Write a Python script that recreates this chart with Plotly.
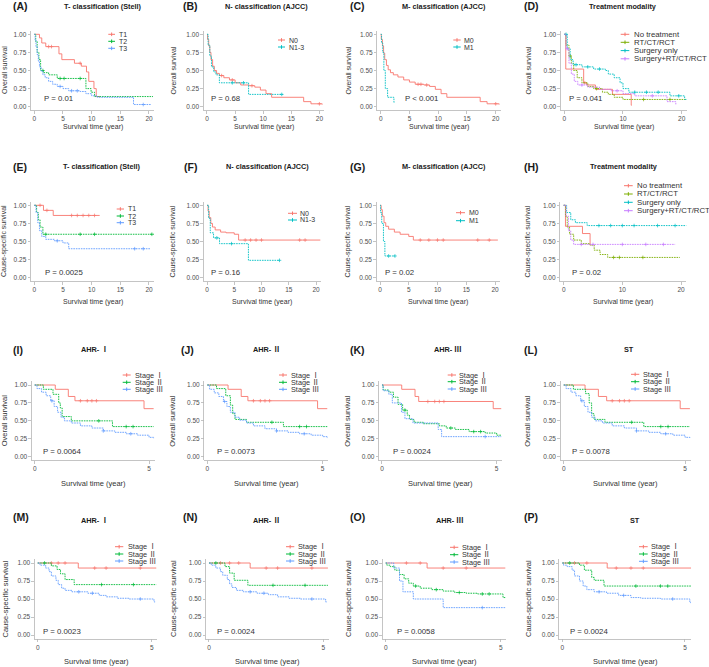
import plotly.graph_objects as go

W, H = 709, 667
RED = '#F8766D'; GRN = '#00BA38'; BLU = '#619CFF'; CYN = '#00BFC4'; OLV = '#7CAE00'; PUR = '#C77CFF'

# ---------------- data ----------------
# Panel A: overall survival by T classification
A_T1_time = [0, 0.9, 1.3, 2.0, 4.3, 4.8, 7.0, 8.2, 9.1, 9.5, 10.4, 10.8, 11.5]
A_T1_surv = [1, 0.95, 0.88, 0.83, 0.73, 0.65, 0.60, 0.56, 0.48, 0.35, 0.25, 0.14, 0.14]
A_T1_cens = [2.5, 3.0, 8.0]
A_T2_time = [0, 0.25, 0.5, 0.8, 1.1, 1.6, 2.5, 4.0, 9.0, 9.9, 10.5, 20.7]
A_T2_surv = [1, 0.9, 0.75, 0.65, 0.5, 0.47, 0.44, 0.39, 0.25, 0.20, 0.14, 0.14]
A_T2_cens = [1.5, 4.5, 5.2, 8.0]
A_T3_time = [0, 0.15, 0.3, 0.5, 0.7, 0.9, 1.2, 1.5, 1.9, 2.5, 3.2, 4.0, 5.0, 6.0, 8.0, 9.0, 10.0, 11.0, 17.3, 20.3]
A_T3_surv = [1, 0.92, 0.83, 0.72, 0.63, 0.55, 0.49, 0.44, 0.40, 0.35, 0.31, 0.28, 0.25, 0.22, 0.21, 0.18, 0.15, 0.13, 0.03, 0.03]
A_T3_cens = [4.5, 6.5, 7.5, 19.0]

# Panel B: overall survival by N classification
B_N0_time = [0, 0.1, 0.3, 0.5, 0.7, 1.0, 1.3, 1.7, 2.2, 3.0, 4.0, 5.0, 6.0, 7.5, 8.5, 9.5, 10.5, 11.5, 17.2, 18.5, 20.5]
B_N0_surv = [1, 0.93, 0.84, 0.75, 0.65, 0.56, 0.50, 0.46, 0.43, 0.40, 0.37, 0.33, 0.30, 0.29, 0.27, 0.23, 0.18, 0.13, 0.07, 0.04, 0.03]
B_N0_cens = [2.6, 4.5, 8.0, 20.0]
B_N1_time = [0, 0.2, 0.5, 0.8, 1.2, 1.6, 2.2, 7.4, 13.5]
B_N1_surv = [1, 0.85, 0.70, 0.55, 0.48, 0.44, 0.33, 0.17, 0.17]
B_N1_cens = [4.5, 6.5, 13.3]

# Panel C: overall survival by M classification
C_M0_time = [0, 0.1, 0.3, 0.5, 0.7, 1.0, 1.3, 1.7, 2.2, 3.0, 4.0, 5.0, 6.0, 7.5, 8.5, 9.5, 10.5, 11.5, 17.3, 18.5, 20.6]
C_M0_surv = [1, 0.93, 0.84, 0.74, 0.65, 0.57, 0.51, 0.47, 0.44, 0.41, 0.37, 0.34, 0.31, 0.30, 0.28, 0.24, 0.18, 0.13, 0.07, 0.04, 0.03]
C_M0_cens = [6.5, 7.0, 8.0, 20.0]
C_M1_time = [0, 0.15, 0.35, 0.55, 0.8, 1.2, 2.3, 2.4]
C_M1_surv = [1, 0.88, 0.75, 0.50, 0.25, 0.13, 0.06, 0.06]
C_M1_cens = []

# Panel D: overall survival by treatment modality
D_NT_time = [0, 0.25, 3.3, 3.8, 5.3, 8.2, 11.4, 11.5]
D_NT_surv = [1, 0.52, 0.33, 0.30, 0.24, 0.17, 0.02, 0.02]
D_NT_cens = [3.5]
D_RT_time = [0, 0.3, 0.8, 1.2, 1.6, 2.2, 3.0, 4.0, 5.0, 6.5, 7.5, 8.5, 10.0, 20.8]
D_RT_surv = [1, 0.85, 0.70, 0.60, 0.50, 0.40, 0.33, 0.28, 0.25, 0.20, 0.17, 0.13, 0.10, 0.10]
D_RT_cens = [1.0, 5.5, 13.5, 18.0]
D_SO_time = [0, 0.5, 1.0, 1.5, 3.0, 5.0, 7.0, 7.5, 8.5, 9.5, 10.0, 11.0, 18.0, 20.5, 21.0]
D_SO_surv = [1, 0.80, 0.65, 0.58, 0.55, 0.52, 0.50, 0.45, 0.40, 0.33, 0.25, 0.20, 0.15, 0.10, 0.05]
D_SO_cens = [0.3, 2.0, 4.0, 6.0, 12.0, 14.0, 16.0, 19.5]
D_SP_time = [0, 0.3, 0.8, 1.2, 1.7, 2.3, 4.0, 6.0, 8.0, 10.0, 12.0, 17.5, 19.0]
D_SP_surv = [1, 0.80, 0.60, 0.45, 0.35, 0.30, 0.27, 0.24, 0.22, 0.18, 0.15, 0.07, 0.03]
D_SP_cens = [0.5, 3.0, 9.0, 15.0]

# Panel E: cause-specific survival by T classification
E_T1_time = [0, 1.6, 3.3, 11.4]
E_T1_surv = [1, 0.93, 0.86, 0.86]
E_T1_cens = [1.0, 2.2, 6.5, 7.5, 8.5, 9.5, 10.5]
E_T2_time = [0, 0.4, 0.7, 1.0, 1.5, 20.8]
E_T2_surv = [1, 0.90, 0.80, 0.70, 0.60, 0.60]
E_T2_cens = [2.0, 8.0, 10.5, 20.5]
E_T3_time = [0, 0.3, 0.6, 0.9, 1.3, 2.0, 3.5, 5.0, 6.0, 20.3]
E_T3_surv = [1, 0.90, 0.76, 0.65, 0.57, 0.53, 0.51, 0.48, 0.40, 0.40]
E_T3_cens = [4.0, 17.5, 19.0]

# Panel F: cause-specific survival by N classification
F_N0_time = [0, 0.2, 0.4, 0.7, 1.0, 1.5, 2.5, 3.5, 5.0, 5.8, 20.8]
F_N0_surv = [1, 0.92, 0.83, 0.75, 0.70, 0.66, 0.63, 0.62, 0.60, 0.52, 0.52]
F_N0_cens = [7.0, 8.0, 9.0, 10.0, 17.0, 18.0]
F_N1_time = [0, 0.3, 0.6, 1.2, 2.3, 7.6, 13.3]
F_N1_surv = [1, 0.82, 0.62, 0.55, 0.47, 0.24, 0.24]
F_N1_cens = [1.8, 4.5, 13.3]

# Panel G: cause-specific survival by M classification
G_M0_time = [0, 0.2, 0.4, 0.7, 1.0, 1.5, 2.5, 3.5, 5.0, 5.8, 20.5]
G_M0_surv = [1, 0.94, 0.85, 0.76, 0.71, 0.67, 0.63, 0.60, 0.57, 0.52, 0.52]
G_M0_cens = [7.0, 8.5, 10.0, 11.0, 17.0, 19.0]
G_M1_time = [0, 0.1, 0.3, 0.6, 0.85, 2.6]
G_M1_surv = [1, 0.90, 0.75, 0.50, 0.30, 0.30]
G_M1_cens = [1.5, 2.6]

# Panel H: cause-specific survival by treatment modality
H_NT_time = [0, 0.3, 3.2, 4.5, 4.6]
H_NT_surv = [1, 0.71, 0.61, 0.45, 0.45]
H_NT_cens = []
H_RT_time = [0, 0.3, 0.6, 1.0, 1.7, 3.0, 4.5, 5.2, 6.2, 7.5, 19.8]
H_RT_surv = [1, 0.85, 0.70, 0.60, 0.52, 0.47, 0.45, 0.38, 0.32, 0.28, 0.28]
H_RT_cens = [8.5, 9.5, 13.5]
H_SO_time = [0, 0.5, 1.2, 2.0, 4.0, 21.0]
H_SO_surv = [1, 0.90, 0.80, 0.76, 0.72, 0.72]
H_SO_cens = [6.0, 8.0, 10.0, 12.0, 16.0, 19.0]
H_SP_time = [0, 0.4, 0.8, 1.2, 1.7, 19.0]
H_SP_surv = [1, 0.85, 0.65, 0.52, 0.46, 0.46]
H_SP_cens = [3.0, 5.0, 10.0, 14.0, 17.0]

# Panels I-L: overall survival by stage (AHR-I, AHR-II, AHR-III, ST)
I_S1_time = [0, 0.9, 1.47, 1.76, 4.78, 5.2]
I_S1_surv = [1, 0.94, 0.84, 0.78, 0.67, 0.67]
I_S1_cens = [2.0, 2.3, 2.5, 2.7]
I_S2_time = [0, 0.38, 0.8, 1.05, 1.12, 1.2, 1.6, 3.4, 5.2]
I_S2_surv = [1, 0.94, 0.87, 0.75, 0.68, 0.56, 0.50, 0.42, 0.42]
I_S2_cens = [2.8, 4.0, 4.3]
I_S3_time = [0, 0.1, 0.3, 0.5, 0.7, 0.85, 1.0, 1.15, 1.3, 1.6, 2.0, 2.5, 3.0, 3.5, 4.0, 4.5, 5.0, 5.2]
I_S3_surv = [1, 0.95, 0.90, 0.85, 0.78, 0.70, 0.62, 0.55, 0.50, 0.47, 0.43, 0.40, 0.36, 0.34, 0.32, 0.30, 0.27, 0.25]
I_S3_cens = [0.75, 3.0, 4.2]

J_S1_time = [0, 0.9, 1.47, 1.76, 4.78, 5.2]
J_S1_surv = [1, 0.94, 0.84, 0.78, 0.67, 0.67]
J_S1_cens = [2.0, 2.3, 2.5, 2.7]
J_S2_time = [0, 0.4, 0.8, 1.0, 1.1, 1.2, 1.7, 3.3, 5.2]
J_S2_surv = [1, 0.95, 0.85, 0.72, 0.60, 0.52, 0.48, 0.42, 0.42]
J_S2_cens = [2.8, 4.0, 4.3]
J_S3_time = [0, 0.1, 0.3, 0.5, 0.7, 0.85, 1.0, 1.2, 1.4, 1.7, 2.0, 2.5, 3.0, 3.5, 4.0, 4.5, 5.0, 5.2]
J_S3_surv = [1, 0.94, 0.89, 0.84, 0.77, 0.70, 0.62, 0.55, 0.51, 0.47, 0.43, 0.39, 0.36, 0.34, 0.32, 0.30, 0.28, 0.26]
J_S3_cens = [0.75, 3.0, 4.2]

K_S1_time = [0, 0.86, 1.44, 1.6, 4.85, 5.2]
K_S1_surv = [1, 0.94, 0.84, 0.77, 0.67, 0.67]
K_S1_cens = [2.0, 2.3, 2.5, 2.7]
K_S2_time = [0, 0.05, 0.3, 0.5, 0.7, 0.9, 1.1, 1.2, 1.4, 1.8, 2.5, 2.8, 3.2, 3.8, 4.5, 5.0, 5.2]
K_S2_surv = [1, 0.93, 0.90, 0.83, 0.73, 0.65, 0.58, 0.52, 0.48, 0.46, 0.43, 0.40, 0.38, 0.35, 0.33, 0.30, 0.30]
K_S2_cens = [1.0, 3.0, 4.0, 4.3]
K_S3_time = [0, 0.05, 0.3, 0.45, 0.85, 1.0, 1.35, 2.45, 2.6, 5.2]
K_S3_surv = [1, 0.92, 0.87, 0.75, 0.62, 0.53, 0.47, 0.38, 0.28, 0.28]
K_S3_cens = [4.5]

L_S1_time = [0, 0.88, 1.43, 1.77, 4.8, 5.2]
L_S1_surv = [1, 0.94, 0.84, 0.78, 0.67, 0.67]
L_S1_cens = [2.0, 2.3, 2.5, 2.7]
L_S2_time = [0, 0.4, 0.9, 1.05, 1.15, 1.25, 1.7, 3.3, 5.2]
L_S2_surv = [1, 0.94, 0.88, 0.75, 0.60, 0.52, 0.48, 0.42, 0.42]
L_S2_cens = [2.8, 4.0, 4.3]
L_S3_time = [0, 0.1, 0.3, 0.5, 0.7, 0.85, 1.0, 1.15, 1.3, 1.6, 2.0, 2.5, 3.0, 3.5, 4.0, 4.5, 5.0, 5.2]
L_S3_surv = [1, 0.95, 0.90, 0.85, 0.78, 0.70, 0.62, 0.55, 0.50, 0.47, 0.43, 0.40, 0.36, 0.34, 0.32, 0.30, 0.27, 0.25]
L_S3_cens = [0.75, 3.0, 4.2]

# Panels M-P: cause-specific survival by stage
M_S1_time = [0, 1.78, 5.2]
M_S1_surv = [1, 0.93, 0.93]
M_S1_cens = [0.6, 0.9, 1.2, 2.5, 3.0, 4.5]
M_S2_time = [0, 0.6, 0.85, 1.0, 1.2, 1.6, 5.2]
M_S2_surv = [1, 0.96, 0.91, 0.85, 0.77, 0.70, 0.70]
M_S2_cens = [0.3, 2.8, 4.2]
M_S3_time = [0, 0.1, 0.35, 0.5, 0.6, 0.8, 0.9, 1.05, 1.2, 1.5, 2.2, 2.7, 3.0, 3.5, 4.0, 5.1, 5.15]
M_S3_surv = [1, 0.97, 0.93, 0.88, 0.82, 0.76, 0.70, 0.65, 0.62, 0.60, 0.58, 0.55, 0.53, 0.51, 0.50, 0.46, 0.46]
M_S3_cens = [1.8, 2.4, 4.5]

N_S1_time = [0, 1.8, 5.2]
N_S1_surv = [1, 0.93, 0.93]
N_S1_cens = [0.5, 0.9, 1.3, 2.5, 3.0, 4.5]
N_S2_time = [0, 0.7, 0.9, 1.1, 1.7, 5.2]
N_S2_surv = [1, 0.95, 0.86, 0.76, 0.69, 0.69]
N_S2_cens = [0.3, 2.8, 4.2]
N_S3_time = [0, 0.1, 0.3, 0.5, 0.6, 0.8, 0.9, 1.0, 1.2, 1.5, 2.1, 2.6, 3.0, 3.5, 4.0, 5.1, 5.15]
N_S3_surv = [1, 0.97, 0.93, 0.88, 0.83, 0.77, 0.71, 0.66, 0.62, 0.60, 0.58, 0.56, 0.53, 0.51, 0.50, 0.46, 0.46]
N_S3_cens = [1.8, 2.4, 4.5]

O_S1_time = [0, 1.8, 5.2]
O_S1_surv = [1, 0.93, 0.93]
O_S1_cens = [0.9, 1.5, 2.5, 3.5]
O_S2_time = [0, 0.05, 0.2, 0.4, 0.6, 0.8, 1.0, 1.2, 1.5, 2.0, 2.5, 3.0, 3.5, 4.0, 5.1, 5.2]
O_S2_surv = [1, 0.97, 0.95, 0.90, 0.84, 0.78, 0.72, 0.68, 0.65, 0.63, 0.61, 0.59, 0.58, 0.57, 0.52, 0.52]
O_S2_cens = [1.3, 2.2, 3.2, 4.2, 4.5]
O_S3_time = [0, 0.35, 0.6, 0.75, 1.2, 2.5, 5.2]
O_S3_surv = [1, 0.93, 0.75, 0.60, 0.50, 0.38, 0.38]
O_S3_cens = [4.2]

P_S1_time = [0, 1.83, 5.25]
P_S1_surv = [1, 0.93, 0.93]
P_S1_cens = [0.5, 1.0, 2.2, 2.8, 3.3]
P_S2_time = [0, 0.7, 0.9, 1.2, 1.3, 1.7, 5.25]
P_S2_surv = [1, 0.97, 0.90, 0.80, 0.76, 0.68, 0.68]
P_S2_cens = [0.3, 3.0, 4.0, 4.3]
P_S3_time = [0, 0.05, 0.2, 0.4, 0.5, 0.7, 0.85, 1.0, 1.3, 1.8, 2.3, 2.8, 3.2, 4.0, 5.2, 5.25]
P_S3_surv = [1, 0.97, 0.95, 0.90, 0.82, 0.75, 0.68, 0.63, 0.60, 0.58, 0.55, 0.52, 0.51, 0.50, 0.45, 0.45]
P_S3_cens = [1.5, 2.5, 4.5]

# labels
T_NAMES = ['T1', 'T2', 'T3']
N_NAMES = ['N0', 'N1-3']
M_NAMES = ['M0', 'M1']
TX_NAMES = ['No treatment', 'RT/CT/RCT', 'Surgery only', 'Surgery+RT/CT/RCT']
STAGE_NAMES = ['Stage Ⅰ', 'Stage Ⅱ', 'Stage Ⅲ']
OS_LABEL = 'Overall survival'
CSS_LABEL = 'Cause-specific survival'
X_LABEL = 'Survival time (year)'
Y_TICKS = [0, 0.25, 0.5, 0.75, 1.0]
Y_TICKTEXT = ['0.00', '0.25', '0.50', '0.75', '1.00']
X_TICKS_LONG = [0, 5, 10, 15, 20]
X_TICKS_TX = [0, 10, 20]
X_TICKS_SHORT = [0, 5]

# ---------------- layout specs (pixel geometry) ----------------
ROWS = {
    1: dict(y1=34.3, y0=106.7, lab=6, pv=99, xt=127.3, ysz=7),
    2: dict(y1=205.3, y0=277.7, lab=167, pv=272.3, xt=301.7, ysz=7),
    3: dict(y1=385.0, y0=456.7, lab=350, pv=451.7, xt=483.3, ysz=7.5),
    4: dict(y1=563.0, y0=635.0, lab=517, pv=631.7, xt=661.7, ysz=7.5),
}
YT_X = [4.5, 173, 348, 528]
XR_LONG = [-0.6, 20.9]
XR_SHORT = [-0.13, 5.25]

panels = [
    dict(row=1, col=0, lab='(A)', labx=20, title='T- classification (Stell)', tx=103, ylab=OS_LABEL,
         p='P = 0.01', px=42, x0=34.3, ppu=5.735, xr=XR_LONG, xt=X_TICKS_LONG,
         curves=[(T_NAMES[0], A_T1_time, A_T1_surv, A_T1_cens, RED), (T_NAMES[1], A_T2_time, A_T2_surv, A_T2_cens, GRN),
                 (T_NAMES[2], A_T3_time, A_T3_surv, A_T3_cens, BLU)],
         leg=dict(k0=108.3, k1=115, tx=116.7, rows=[34.3, 41.3, 48.3], fs=7)),
    dict(row=1, col=1, lab='(B)', labx=190, title='N- classification (AJCC)', tx=266, ylab=OS_LABEL,
         p='P = 0.68', px=209.3, x0=207, ppu=5.62, xr=XR_LONG, xt=X_TICKS_LONG,
         curves=[(N_NAMES[0], B_N0_time, B_N0_surv, B_N0_cens, RED), (N_NAMES[1], B_N1_time, B_N1_surv, B_N1_cens, CYN)],
         leg=dict(k0=278, k1=285, tx=286.7, rows=[40, 47], fs=7)),
    dict(row=1, col=2, lab='(C)', labx=357, title='M- classification (AJCC)', tx=444, ylab=OS_LABEL,
         p='P < 0.001', px=403.3, x0=380.7, ppu=5.75, xr=XR_LONG, xt=X_TICKS_LONG,
         curves=[(M_NAMES[0], C_M0_time, C_M0_surv, C_M0_cens, RED), (M_NAMES[1], C_M1_time, C_M1_surv, C_M1_cens, CYN)],
         leg=dict(k0=453.3, k1=460.7, tx=462, rows=[40, 47], fs=7)),
    dict(row=1, col=3, lab='(D)', labx=531, title='Treatment modality', tx=623, ylab=OS_LABEL,
         p='P = 0.041', px=567.3, x0=564.3, ppu=5.87, xr=XR_LONG, xt=X_TICKS_TX,
         curves=[(TX_NAMES[0], D_NT_time, D_NT_surv, D_NT_cens, RED), (TX_NAMES[1], D_RT_time, D_RT_surv, D_RT_cens, OLV),
                 (TX_NAMES[2], D_SO_time, D_SO_surv, D_SO_cens, CYN), (TX_NAMES[3], D_SP_time, D_SP_surv, D_SP_cens, PUR)],
         leg=dict(k0=620.7, k1=629.3, tx=631.7, rows=[34.3, 42.3, 50.6, 58.8], fs=7.8)),
    dict(row=2, col=0, lab='(E)', labx=20, title='T- classification (Stell)', tx=102, ylab=CSS_LABEL,
         p='P = 0.0025', px=43.3, x0=34.3, ppu=5.735, xr=XR_LONG, xt=X_TICKS_LONG,
         curves=[(T_NAMES[0], E_T1_time, E_T1_surv, E_T1_cens, RED), (T_NAMES[1], E_T2_time, E_T2_surv, E_T2_cens, GRN),
                 (T_NAMES[2], E_T3_time, E_T3_surv, E_T3_cens, BLU)],
         leg=dict(k0=116.7, k1=124, tx=126, rows=[209, 216, 222.7], fs=7)),
    dict(row=2, col=1, lab='(F)', labx=190, title='N- classification (AJCC)', tx=267, ylab=CSS_LABEL,
         p='P = 0.16', px=209.3, x0=207, ppu=5.45, xr=XR_LONG, xt=X_TICKS_LONG,
         curves=[(N_NAMES[0], F_N0_time, F_N0_surv, F_N0_cens, RED), (N_NAMES[1], F_N1_time, F_N1_surv, F_N1_cens, CYN)],
         leg=dict(k0=288, k1=297, tx=298, rows=[213.3, 220], fs=7)),
    dict(row=2, col=2, lab='(G)', labx=357, title='M- classification (AJCC)', tx=444, ylab=CSS_LABEL,
         p='P = 0.02', px=383.3, x0=380, ppu=5.75, xr=XR_LONG, xt=X_TICKS_LONG,
         curves=[(M_NAMES[0], G_M0_time, G_M0_surv, G_M0_cens, RED), (M_NAMES[1], G_M1_time, G_M1_surv, G_M1_cens, CYN)],
         leg=dict(k0=456, k1=465, tx=466.7, rows=[212.7, 220.7], fs=7)),
    dict(row=2, col=3, lab='(H)', labx=531, title='Treatment modality', tx=624, ylab=CSS_LABEL,
         p='P = 0.02', px=570, x0=563.7, ppu=5.865, xr=XR_LONG, xt=X_TICKS_TX,
         curves=[(TX_NAMES[0], H_NT_time, H_NT_surv, H_NT_cens, RED), (TX_NAMES[1], H_RT_time, H_RT_surv, H_RT_cens, OLV),
                 (TX_NAMES[2], H_SO_time, H_SO_surv, H_SO_cens, CYN), (TX_NAMES[3], H_SP_time, H_SP_surv, H_SP_cens, PUR)],
         leg=dict(k0=624, k1=632.7, tx=635, rows=[185.7, 194, 202.3, 210.7], fs=7.8)),
    dict(row=3, col=0, lab='(I)', labx=18, title='AHR- Ⅰ', tx=95, ylab=OS_LABEL,
         p='P = 0.0064', px=40.7, x0=34.7, ppu=22.87, xr=XR_SHORT, xt=X_TICKS_SHORT,
         curves=[(STAGE_NAMES[0], I_S1_time, I_S1_surv, I_S1_cens, RED), (STAGE_NAMES[1], I_S2_time, I_S2_surv, I_S2_cens, GRN),
                 (STAGE_NAMES[2], I_S3_time, I_S3_surv, I_S3_cens, BLU)],
         leg=dict(k0=122.7, k1=130.7, tx=132.7, rows=[375, 382.3, 389.3], fs=7.3)),
    dict(row=3, col=1, lab='(J)', labx=188, title='AHR- Ⅱ', tx=267, ylab=OS_LABEL,
         p='P = 0.0073', px=215, x0=207.3, ppu=23.07, xr=XR_SHORT, xt=X_TICKS_SHORT,
         curves=[(STAGE_NAMES[0], J_S1_time, J_S1_surv, J_S1_cens, RED), (STAGE_NAMES[1], J_S2_time, J_S2_surv, J_S2_cens, GRN),
                 (STAGE_NAMES[2], J_S3_time, J_S3_surv, J_S3_cens, BLU)],
         leg=dict(k0=279, k1=287, tx=288.7, rows=[375, 382.3, 389.3], fs=7.3)),
    dict(row=3, col=2, lab='(K)', labx=357, title='AHR- Ⅲ', tx=448, ylab=OS_LABEL,
         p='P = 0.0024', px=390.7, x0=382, ppu=22.93, xr=XR_SHORT, xt=X_TICKS_SHORT,
         curves=[(STAGE_NAMES[0], K_S1_time, K_S1_surv, K_S1_cens, RED), (STAGE_NAMES[1], K_S2_time, K_S2_surv, K_S2_cens, GRN),
                 (STAGE_NAMES[2], K_S3_time, K_S3_surv, K_S3_cens, BLU)],
         leg=dict(k0=447.7, k1=456, tx=457.3, rows=[375, 381.7, 389], fs=7.3)),
    dict(row=3, col=3, lab='(L)', labx=530, title='ST', tx=629, ylab=OS_LABEL,
         p='P = 0.0078', px=570, x0=563.7, ppu=24.27, xr=XR_SHORT, xt=X_TICKS_SHORT,
         curves=[(STAGE_NAMES[0], L_S1_time, L_S1_surv, L_S1_cens, RED), (STAGE_NAMES[1], L_S2_time, L_S2_surv, L_S2_cens, GRN),
                 (STAGE_NAMES[2], L_S3_time, L_S3_surv, L_S3_cens, BLU)],
         leg=dict(k0=631, k1=639.3, tx=641, rows=[374.3, 381.7, 389], fs=7.3)),
    dict(row=4, col=0, lab='(M)', labx=21, title='AHR- Ⅰ', tx=95, ylab=CSS_LABEL,
         p='P = 0.0023', px=40.7, x0=37.7, ppu=22.8, xr=XR_SHORT, xt=X_TICKS_SHORT,
         curves=[(STAGE_NAMES[0], M_S1_time, M_S1_surv, M_S1_cens, RED), (STAGE_NAMES[1], M_S2_time, M_S2_surv, M_S2_cens, GRN),
                 (STAGE_NAMES[2], M_S3_time, M_S3_surv, M_S3_cens, BLU)],
         leg=dict(k0=115, k1=123.3, tx=125.7, rows=[546.7, 554, 561], fs=7.3)),
    dict(row=4, col=1, lab='(N)', labx=190, title='AHR- Ⅱ', tx=267, ylab=CSS_LABEL,
         p='P = 0.0024', px=215, x0=209, ppu=22.87, xr=XR_SHORT, xt=X_TICKS_SHORT,
         curves=[(STAGE_NAMES[0], N_S1_time, N_S1_surv, N_S1_cens, RED), (STAGE_NAMES[1], N_S2_time, N_S2_surv, N_S2_cens, GRN),
                 (STAGE_NAMES[2], N_S3_time, N_S3_surv, N_S3_cens, BLU)],
         leg=dict(k0=286, k1=294.3, tx=296.3, rows=[546.7, 554, 561], fs=7.3)),
    dict(row=4, col=2, lab='(O)', labx=357, title='AHR- Ⅲ', tx=450, ylab=CSS_LABEL,
         p='P = 0.0058', px=395, x0=385.7, ppu=23.0, xr=XR_SHORT, xt=X_TICKS_SHORT,
         curves=[(STAGE_NAMES[0], O_S1_time, O_S1_surv, O_S1_cens, RED), (STAGE_NAMES[1], O_S2_time, O_S2_surv, O_S2_cens, GRN),
                 (STAGE_NAMES[2], O_S3_time, O_S3_surv, O_S3_cens, BLU)],
         leg=dict(k0=450, k1=458.3, tx=460, rows=[547.3, 554.7, 562], fs=7.3)),
    dict(row=4, col=3, lab='(P)', labx=531, title='ST', tx=635, ylab=CSS_LABEL,
         p='P = 0.0024', px=568.3, x0=562.3, ppu=24.53, xr=XR_SHORT, xt=X_TICKS_SHORT,
         curves=[(STAGE_NAMES[0], P_S1_time, P_S1_surv, P_S1_cens, RED), (STAGE_NAMES[1], P_S2_time, P_S2_surv, P_S2_cens, GRN),
                 (STAGE_NAMES[2], P_S3_time, P_S3_surv, P_S3_cens, BLU)],
         leg=dict(k0=639, k1=647.7, tx=649, rows=[546.7, 554, 561.3], fs=7.3)),
]

FONT = 'Liberation Sans, Arial, Noto Sans CJK SC, sans-serif'
AX_COL = '#b5b5b5'
TICK_COL = '#4d4d4d'


def px2x(p):
    return p / W


def px2y(p):
    return 1 - p / H


def step_val(times, surv, t):
    v = surv[0]
    for ti, si in zip(times, surv):
        if ti <= t:
            v = si
    return v


fig = go.Figure()
annotations = []
shapes = []
layout_axes = {}

for k, pn in enumerate(panels, start=1):
    xa = 'x' if k == 1 else f'x{k}'
    ya = 'y' if k == 1 else f'y{k}'
    r = ROWS[pn['row']]
    left = pn['x0'] + pn['xr'][0] * pn['ppu']
    right = pn['x0'] + pn['xr'][1] * pn['ppu']
    span = r['y0'] - r['y1']
    top = r['y1'] - 0.05 * span
    bot = r['y0'] + 0.05 * span
    layout_axes['xaxis' if k == 1 else f'xaxis{k}'] = dict(
        domain=[px2x(left), px2x(right)], range=pn['xr'], anchor=ya,
        showline=True, linecolor=AX_COL, linewidth=0.8, ticks='outside', ticklen=2.5,
        tickwidth=0.8, tickcolor=AX_COL, tickvals=pn['xt'], ticktext=[str(v) for v in pn['xt']],
        tickfont=dict(size=6.5, color=TICK_COL, family=FONT), showgrid=False, zeroline=False)
    layout_axes['yaxis' if k == 1 else f'yaxis{k}'] = dict(
        domain=[px2y(bot), px2y(top)], range=[-0.05, 1.05], anchor=xa,
        showline=True, linecolor=AX_COL, linewidth=0.8, ticks='outside', ticklen=2.5,
        tickwidth=0.8, tickcolor=AX_COL, tickvals=Y_TICKS, ticktext=Y_TICKTEXT,
        tickfont=dict(size=6.5, color=TICK_COL, family=FONT), showgrid=False, zeroline=False)

    for ci, (name, t, s, cens, col) in enumerate(pn['curves']):
        fig.add_trace(go.Scatter(
            x=t, y=s, mode='lines', xaxis=xa, yaxis=ya, name=name, showlegend=False,
            line=dict(color=col, width=0.9, shape='hv', dash='solid' if ci == 0 else '1.6px,0.9px'),
            hoverinfo='skip'))
        if cens:
            fig.add_trace(go.Scatter(
                x=cens, y=[step_val(t, s, c) for c in cens], mode='markers', xaxis=xa, yaxis=ya,
                showlegend=False, hoverinfo='skip',
                marker=dict(symbol='cross-thin', size=2.6, color=col, line=dict(color=col, width=0.7))))

    annotations.append(dict(x=px2x(pn['labx']), y=px2y(r['lab']), xref='paper', yref='paper', text=f"<b>{pn['lab']}</b>",
                            showarrow=False, xanchor='center', yanchor='middle',
                            font=dict(size=10.5, color='#1a1a1a', family=FONT)))
    title_y = r['lab'] + (3 if pn['row'] == 4 else 0)
    annotations.append(dict(x=px2x(pn['tx']), y=px2y(title_y), xref='paper', yref='paper', text=f"<b>{pn['title']}</b>",
                            showarrow=False, xanchor='center', yanchor='middle',
                            font=dict(size=7.3, color='#1a1a1a', family=FONT)))
    annotations.append(dict(x=px2x((left + right) / 2), y=px2y(r['xt']), xref='paper', yref='paper', text=X_LABEL,
                            showarrow=False, xanchor='center', yanchor='middle',
                            font=dict(size=r['ysz'], color='#333333', family=FONT)))
    annotations.append(dict(x=px2x(YT_X[pn['col']]), y=px2y((top + bot) / 2), xref='paper', yref='paper', text=pn['ylab'],
                            showarrow=False, xanchor='center', yanchor='middle', textangle=-90,
                            font=dict(size=r['ysz'], color='#333333', family=FONT)))
    annotations.append(dict(x=px2x(pn['px']), y=px2y(r['pv']), xref='paper', yref='paper', text=pn['p'],
                            showarrow=False, xanchor='left', yanchor='middle',
                            font=dict(size=7.8, color='#333333', family=FONT)))
    lg = pn['leg']
    for (name, t, s, cens, col), ly in zip(pn['curves'], lg['rows']):
        shapes.append(dict(type='line', xref='paper', yref='paper', x0=px2x(lg['k0']), x1=px2x(lg['k1']),
                           y0=px2y(ly), y1=px2y(ly), line=dict(color=col, width=1)))
        cx = (lg['k0'] + lg['k1']) / 2
        shapes.append(dict(type='line', xref='paper', yref='paper', x0=px2x(cx), x1=px2x(cx),
                           y0=px2y(ly - 1.8), y1=px2y(ly + 1.8), line=dict(color=col, width=1)))
        annotations.append(dict(x=px2x(lg['tx']), y=px2y(ly), xref='paper', yref='paper', text=name,
                                showarrow=False, xanchor='left', yanchor='middle',
                                font=dict(size=lg['fs'], color='#333333', family=FONT)))

fig.update_layout(
    width=W, height=H, margin=dict(l=0, r=0, t=0, b=0),
    paper_bgcolor='white', plot_bgcolor='white', showlegend=False,
    annotations=annotations, shapes=shapes, **layout_axes)

fig.write_html('out.html', config={'displayModeBar': False, 'staticPlot': True},
               post_script="document.body.style.margin='0px';document.body.style.padding='0px';")
